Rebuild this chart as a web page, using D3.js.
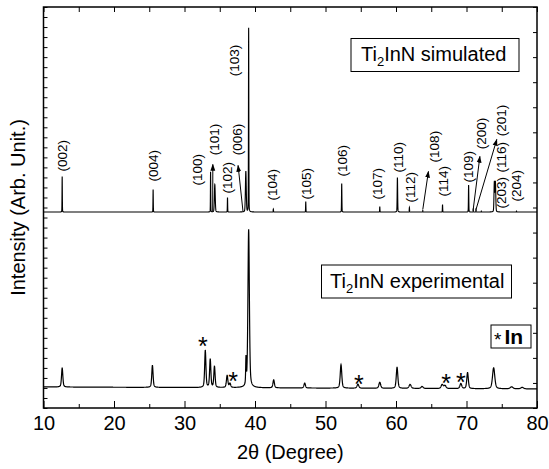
<!DOCTYPE html>
<html>
<head>
<meta charset="utf-8">
<script src="https://cdn.jsdelivr.net/npm/d3@7"></script>
<style>
  body { margin: 0; background: #fff; }
  text { font-family: Arial, "Liberation Sans", sans-serif; fill: #000; }
</style>
</head>
<body>
<svg id="chart" width="549" height="469"></svg>
<script>
// ---- axes ----
const xDomain = [10, 80];
const xMajorTicks = [10, 20, 30, 40, 50, 60, 70, 80];
const xMinorTicks = [15, 25, 35, 45, 55, 65, 75];
const yDomain = [0, 400];

// ---- simulated Ti2InN pattern (2θ, intensity above baseline, FWHM) ----
const simBaseline = 195.5;
const simPos    = [12.65, 25.55, 33.70, 34.30, 36.10, 38.70, 39.10, 42.60, 47.20, 52.30, 57.70, 60.20, 61.90, 63.80, 66.60, 70.30, 70.95, 71.35, 72.10, 73.95, 74.10, 77.10];
const simHeight = [35.5,  22.5,  40,    27.5,  14.5,  40.5,  183.5, 3,     10.5,  28.5,  5.5,   34.5,  4.5,   1.5,   7.5,   27,    3,     3,     1,     29.5,  29.5,  1];
const simWidth  = [0.05,  0.05,  0.05,  0.14,  0.05,  0.14,  0.06,  0.05,  0.05,  0.06,  0.05,  0.08,  0.05,  0.05,  0.05,  0.06,  0.05,  0.05,  0.05,  0.12,  0.12,  0.05];

// ---- experimental pattern ----
const expBackground = [21, 19];   // background level at 10° and at 80°
const expPos    = [12.65, 25.45, 32.95, 33.65, 34.25, 36.05, 36.45, 38.72, 39.10, 42.65, 47.05, 52.20, 54.60, 57.70, 60.15, 62.00, 63.70, 66.55, 66.95, 69.20, 70.15, 73.85, 76.40, 77.90];
const expHeight = [19,    22,    37,    28,    21,    12,    4,     26,    158,   8,     5,     23.5,  4,     6,     21,    4,     2,     4,     3,     5,     16,    21,    2,     1.5];
const expWidth  = [0.22,  0.22,  0.21,  0.21,  0.21,  0.24,  0.24,  0.10,  0.24,  0.24,  0.24,  0.26,  0.30,  0.30,  0.26,  0.34,  0.34,  0.34,  0.34,  0.30,  0.26,  0.38,  0.45,  0.45];

// ---- reflection labels: text, 2θ of label centre, intensity at label's lower end ----
const hklText   = ["(002)", "(004)", "(100)", "(101)", "(102)", "(006)", "(103)", "(104)", "(105)", "(106)", "(107)", "(110)", "(112)", "(108)", "(114)", "(109)", "(200)", "(201)", "(116)", "(203)", "(204)"];
const hklPos    = [12.6,    25.5,    31.8,    34.2,    36.0,    37.45,   37.0,    42.4,    47.2,    52.35,   57.3,    60.3,    62.0,    65.4,    66.7,    70.2,    72.05,   74.9,    74.9,    74.9,    77.0];
const hklBottom = [236,     226,     222,     252,     214,     252,     331,     207,     208,     231,     208,     235,     205,     245,     211,     225,     258,     271,     235,     199,     206];

// ---- leader arrows from a reflection to its label ----
const arrowFrom2t = [34.0,  38.3,  63.8,  70.95, 71.35];
const arrowFromI  = [196,   196,   198,   198,   198];
const arrowTo2t   = [34.02, 37.6,  64.6,  71.9,  74.3];
const arrowToI    = [243,   242,   236,   251,   268];

// ---- In reflections in the experimental pattern ----
const starPos = [32.6, 36.9, 54.75, 67.1, 69.2];
const starI   = [68,   33,   30,    31,   32];

// ---- layout ----
const svg = d3.select("#chart");
const plot = { left: 43.5, right: 537, top: 7, bottom: 408 };

const x = d3.scaleLinear().domain(xDomain).range([plot.left, plot.right]);
const y = d3.scaleLinear().domain(yDomain).range([plot.bottom, plot.top]);

function pseudoVoigt(t, p, h, w, eta) {
  const d = (t - p) / w;
  const L = 1 / (1 + 4 * d * d);
  const G = Math.exp(-4 * Math.LN2 * d * d);
  return h * (eta * L + (1 - eta) * G);
}

function buildProfile(pos, hgt, wid, base, eta, step) {
  const pts = [];
  const n = Math.round((xDomain[1] - xDomain[0]) / step);
  for (let i = 0; i <= n; i++) {
    const t = xDomain[0] + i * step;
    let v = base(t);
    for (let k = 0; k < pos.length; k++) {
      if (Math.abs(t - pos[k]) < 40 * wid[k]) v += pseudoVoigt(t, pos[k], hgt[k], wid[k], eta);
    }
    pts.push([t, v]);
  }
  return pts;
}

const simData = buildProfile(simPos, simHeight, simWidth, () => simBaseline, 0.2, 0.005);
const bgScale = d3.scaleLinear().domain(xDomain).range(expBackground);
const expData = buildProfile(expPos, expHeight, expWidth, t => bgScale(t), 0.45, 0.02);

const line = d3.line().x(d => x(d[0])).y(d => y(d[1]));

const defs = svg.append("defs");
defs.append("clipPath").attr("id", "plotclip")
  .append("rect").attr("x", plot.left).attr("y", plot.top)
  .attr("width", plot.right - plot.left).attr("height", plot.bottom - plot.top);

defs.append("marker")
  .attr("id", "arrowhead").attr("viewBox", "0 0 10 10")
  .attr("refX", 9).attr("refY", 5)
  .attr("markerWidth", 7).attr("markerHeight", 7)
  .attr("markerUnits", "userSpaceOnUse")
  .attr("orient", "auto")
  .append("path").attr("d", "M0,1.5 L10,5 L0,8.5 Z").attr("fill", "#000");

const g = svg.append("g").attr("clip-path", "url(#plotclip)");

g.append("path").datum(simData).attr("d", line)
  .attr("fill", "none").attr("stroke", "#000").attr("stroke-width", 1.1);
g.append("path").datum(expData).attr("d", line)
  .attr("fill", "none").attr("stroke", "#000").attr("stroke-width", 1.2);

// ---- axes (ticks pointing inward) ----
const axisStyle = sel => {
  sel.select(".domain").remove();
  sel.selectAll("line").attr("stroke", "#000").attr("stroke-width", 1);
  sel.selectAll("text").style("font-family", "Arial, 'Liberation Sans', sans-serif").style("font-size", "20px").attr("fill", "#000");
};

svg.append("g").attr("transform", `translate(0,${plot.bottom})`)
  .call(d3.axisBottom(x).tickValues(xMajorTicks).tickSize(-7).tickPadding(8).tickFormat(d3.format("d")))
  .call(axisStyle);
svg.append("g").attr("transform", `translate(0,${plot.bottom})`)
  .call(d3.axisBottom(x).tickValues(xMinorTicks).tickSize(-4).tickFormat(""))
  .call(axisStyle);
svg.append("g").attr("transform", `translate(0,${plot.top})`)
  .call(d3.axisTop(x).tickValues(xMajorTicks.concat(xMinorTicks)).tickSize(-5).tickFormat(""))
  .call(axisStyle);
svg.append("g").attr("transform", `translate(${plot.left},0)`)
  .call(d3.axisLeft(y).tickValues(d3.range(yDomain[0], yDomain[1] + 1, 10)).tickSize(-4).tickFormat(""))
  .call(axisStyle);
svg.append("g").attr("transform", `translate(${plot.right},0)`)
  .call(d3.axisRight(y).tickValues(d3.range(yDomain[0], yDomain[1] + 1, 25)).tickSize(-4).tickFormat(""))
  .call(axisStyle);

svg.append("rect")
  .attr("x", plot.left).attr("y", plot.top)
  .attr("width", plot.right - plot.left).attr("height", plot.bottom - plot.top)
  .attr("fill", "none").attr("stroke", "#000").attr("stroke-width", 1.5);

// ---- axis titles ----
svg.append("text")
  .attr("x", (plot.left + plot.right) / 2).attr("y", 459)
  .attr("text-anchor", "middle").style("font-size", "20px")
  .text("2θ (Degree)");

svg.append("text")
  .attr("transform", `translate(25,${(plot.top + plot.bottom) / 2}) rotate(-90)`)
  .attr("text-anchor", "middle").style("font-size", "20px")
  .text("Intensity (Arb. Unit.)");

// ---- reflection labels ----
svg.append("g").selectAll("text").data(hklText).join("text")
  .attr("transform", (d, i) => `translate(${x(hklPos[i])},${y(hklBottom[i])}) rotate(-90)`)
  .attr("dy", "0.36em")
  .style("font-size", "13.5px")
  .text(d => d);

// ---- arrows ----
svg.append("g").selectAll("line").data(arrowFrom2t).join("line")
  .attr("x1", (d, i) => x(arrowFrom2t[i])).attr("y1", (d, i) => y(arrowFromI[i]))
  .attr("x2", (d, i) => x(arrowTo2t[i])).attr("y2", (d, i) => y(arrowToI[i]))
  .attr("stroke", "#000").attr("stroke-width", 1)
  .attr("marker-end", "url(#arrowhead)");

// ---- In markers ----
svg.append("g").selectAll("text").data(starPos).join("text")
  .attr("x", d => x(d)).attr("y", (d, i) => y(starI[i]))
  .attr("dy", "0.6em").attr("text-anchor", "middle")
  .style("font-size", "25px")
  .text("*");

// ---- legend boxes ----
function legendBox(x0, y0, w, h, build) {
  svg.append("rect").attr("x", x0).attr("y", y0).attr("width", w).attr("height", h)
    .attr("fill", "#fff").attr("stroke", "#000").attr("stroke-width", 1);
  build();
}

function tiInN(tx, ty, rest) {
  const t = svg.append("text").attr("x", tx).attr("y", ty).style("font-size", "20px");
  t.append("tspan").text("Ti");
  t.append("tspan").attr("dy", 5).style("font-size", "13px").text("2");
  t.append("tspan").attr("dy", -5).text("InN " + rest);
}

legendBox(351, 38.5, 168, 33, () => tiInN(361, 61, "simulated"));
legendBox(321.5, 265, 190, 33, () => tiInN(330, 288, "experimental"));
legendBox(491, 325, 40, 23, () => {
  const t = svg.append("text").attr("x", 494).attr("y", 344).style("font-size", "21px");
  t.append("tspan").attr("dy", 2).style("font-size", "19px").text("*");
  t.append("tspan").attr("dx", 3).attr("dy", -2).style("font-weight", "bold").text("In");
});
</script>
</body>
</html>
